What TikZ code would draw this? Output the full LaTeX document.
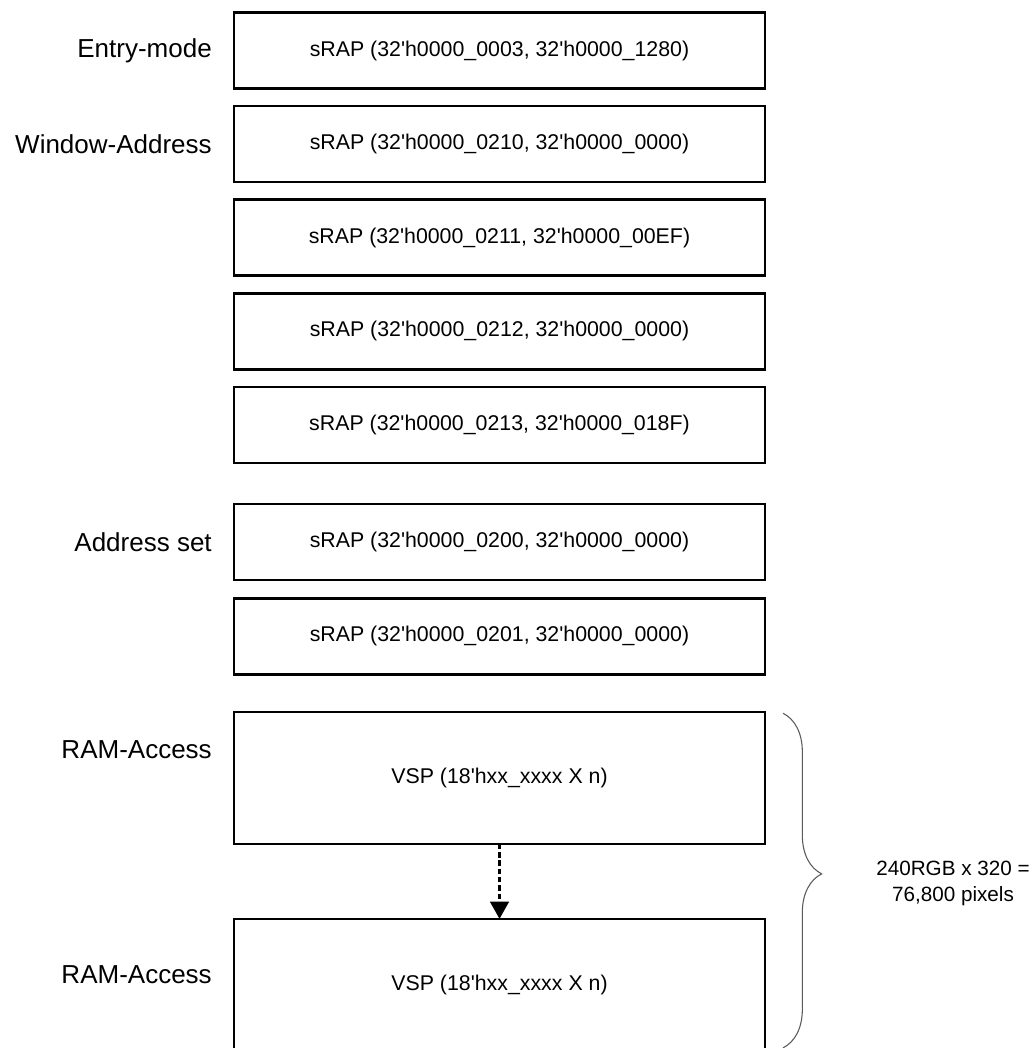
\documentclass[tikz,border=0pt]{standalone}
\usepackage{fontspec}
\setmainfont{Liberation Sans}[Ligatures=TeXOff]
\usetikzlibrary{arrows.meta,positioning,decorations.pathreplacing}
\definecolor{BraceGray}{RGB}{90,90,90}

\begin{document}
\begin{tikzpicture}[x=0.75pt,y=-0.75pt,
        reg/.style={draw,line width=2pt,minimum width=398.25pt,minimum height=57pt,
                    font=\fontsize{16}{19}\selectfont,inner sep=0pt,outer sep=0pt},
        ram/.style={reg,minimum height=99pt},
        lbl/.style={font=\fontsize{19.5}{23}\selectfont,inner sep=0pt,anchor=east},
        note/.style={font=\fontsize{15.5}{20}\selectfont,align=center,inner sep=0pt},
        arr/.style={-{Triangle[width=14pt,length=13pt]},line width=2pt,dash pattern=on 4pt off 2.2pt},
        brc/.style={decorate,decoration={brace,amplitude=29pt,aspect=0.48},BraceGray,line width=0.8pt}
      ]
        \useasboundingbox (0,0) rectangle (1030,1048);
        \node[reg] (R1) at (499.5,50.5) {sRAP (32'h0000\_0003, 32'h0000\_1280)};
        \node[reg,below=13.2pt of R1] (R2) {sRAP (32'h0000\_0210, 32'h0000\_0000)};
        \node[reg,below=13.2pt of R2] (R3) {sRAP (32'h0000\_0211, 32'h0000\_00EF)};
        \node[reg,below=13.2pt of R3] (R4) {sRAP (32'h0000\_0212, 32'h0000\_0000)};
        \node[reg,below=13.2pt of R4] (R5) {sRAP (32'h0000\_0213, 32'h0000\_018F)};
        \node[reg,below=30.75pt of R5] (R6) {sRAP (32'h0000\_0200, 32'h0000\_0000)};
        \node[reg,below=13.9pt of R6] (R7) {sRAP (32'h0000\_0201, 32'h0000\_0000)};
        \node[ram,below=28.1pt of R7] (R8) {VSP (18'hxx\_xxxx X n)};
        \node[ram,below=56.25pt of R8] (R9) {VSP (18'hxx\_xxxx X n)};
        \draw[arr] (R8.south)--(R9.north);
        % step names on the left
        \node[lbl,left=16.5pt of R1.west] (L1) {Entry-mode};
        \node[lbl,left=16.5pt of R2.west] (L2) {Window-Address};
        \node[lbl,left=16.5pt of R6.west] (L6) {Address set};
        \node[lbl] (L8) at ([xshift=-16.5pt,yshift=-28.5pt]R8.north west) {RAM-Access};
        \node[lbl] (L9) at ([xshift=-16.5pt,yshift=-42pt]R9.north west) {RAM-Access};
        % brace over the RAM accesses
        \coordinate (BrTop) at ([xshift=13.5pt,yshift=-1pt]R8.north east);
        \coordinate (BrBot) at ([xshift=13.5pt,yshift=2.25pt]R9.south east);
        \draw[brc] (BrTop)--(BrBot);
        \node[note] (Cnt) at (953,883.5) {240RGB x 320 =\\76,800 pixels};
      \end{tikzpicture}
\end{document}
